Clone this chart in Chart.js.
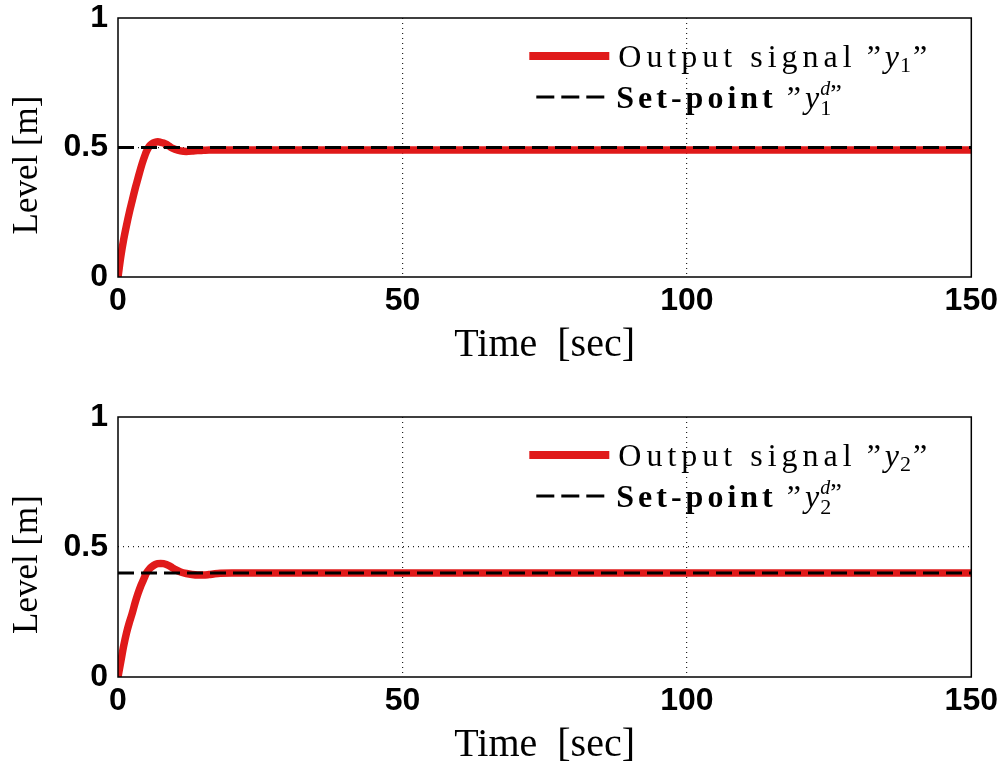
<!DOCTYPE html>
<html>
<head>
<meta charset="utf-8">
<title>Tank levels</title>
<script src="https://cdn.jsdelivr.net/npm/chart.js@4.4.1/dist/chart.umd.min.js"></script>
<style>
  html, body { margin: 0; padding: 0; background: #fff; }
  .panel { position: absolute; left: 0; width: 1006px; }
  #panelTop { top: 0; height: 385px; }
  #panelBottom { top: 385px; height: 386px; }
</style>
</head>
<body>
<div class="panel" id="panelTop"><canvas id="levelChart1"></canvas></div>
<div class="panel" id="panelBottom"><canvas id="levelChart2"></canvas></div>
<script>
// simulation time [sec]
const timeSec = [0, 0.5, 1, 1.5, 2, 2.5, 3, 3.5, 4, 4.5, 5, 5.5, 6, 6.5, 7, 7.5, 8, 8.5, 9, 9.5,
                 10, 11, 12, 13, 14, 15, 16, 17, 18, 20, 25, 30, 50, 75, 100, 125, 150];

// measured levels [m]
const outputY1 = [0, 0.08, 0.145, 0.2, 0.25, 0.295, 0.34, 0.38, 0.42, 0.455, 0.485, 0.505, 0.515, 0.52, 0.522, 0.52, 0.517, 0.512, 0.505, 0.498,
                  0.493, 0.487, 0.485, 0.486, 0.488, 0.489, 0.49, 0.49, 0.49, 0.49, 0.49, 0.49, 0.49, 0.49, 0.49, 0.49, 0.49];
const outputY2 = [0, 0.06, 0.12, 0.17, 0.21, 0.245, 0.285, 0.32, 0.35, 0.375, 0.4, 0.415, 0.425, 0.432, 0.436, 0.437, 0.436, 0.433, 0.428, 0.421,
                  0.414, 0.404, 0.398, 0.394, 0.392, 0.392, 0.394, 0.397, 0.399, 0.4, 0.4, 0.4, 0.4, 0.4, 0.4, 0.4, 0.4];

// set-points
const setpointTime = [0, 150];
const setpointY1 = [0.5, 0.5];
const setpointY2 = [0.4, 0.4];

const timeTicks = [0, 50, 100, 150];
const levelTicks = [0, 0.5, 1];

const RED = '#e01a1a';

function toPoints(xs, ys) {
    return xs.map((x, i) => ({ x: x, y: ys[i] }));
}

// draws a run of text and returns the x where it ends
function putText(ctx, text, x, y, font, spacing) {
    ctx.font = font;
    ctx.letterSpacing = spacing || '0px';
    ctx.fillText(text, x, y);
    const w = ctx.measureText(text).width;
    ctx.letterSpacing = '0px';
    return x + w;
}

// box round the axes
const framePlugin = {
    id: 'axesFrame',
    afterDatasetsDraw(chart) {
        const { ctx, chartArea: a } = chart;
        ctx.save();
        ctx.strokeStyle = '#000';
        ctx.lineWidth = 1.5;
        ctx.strokeRect(a.left, a.top, a.right - a.left, a.bottom - a.top);
        ctx.restore();
    }
};

// legend in the upper right corner, with the math labels
const legendPlugin = {
    id: 'insetLegend',
    afterDraw(chart, args, opts) {
        const { ctx, chartArea } = chart;
        const x0 = chartArea.right - 442;
        const row1 = chartArea.top + 38;
        const row2 = chartArea.top + 79;
        const serif = '"Liberation Serif", serif';
        ctx.save();

        ctx.strokeStyle = RED;
        ctx.lineWidth = 8;
        ctx.beginPath();
        ctx.moveTo(x0, row1);
        ctx.lineTo(x0 + 80, row1);
        ctx.stroke();

        ctx.strokeStyle = '#000';
        ctx.lineWidth = 3;
        ctx.setLineDash([18, 7]);
        ctx.beginPath();
        ctx.moveTo(x0 + 7, row2);
        ctx.lineTo(x0 + 82, row2);
        ctx.stroke();
        ctx.setLineDash([]);

        ctx.fillStyle = '#000';
        ctx.textAlign = 'left';
        ctx.textBaseline = 'alphabetic';

        let x = x0 + 89;
        const base1 = row1 + 11;
        x = putText(ctx, 'Output signal', x, base1, '32px ' + serif, '5px');
        x += 10;
        x = putText(ctx, '\u201D', x, base1, '32px ' + serif);
        x += 4;
        x = putText(ctx, 'y', x, base1, 'italic 32px ' + serif);
        x = putText(ctx, opts.index, x + 1, base1 + 5, '22px ' + serif);
        putText(ctx, '\u201D', x + 2, base1, '32px ' + serif);

        x = x0 + 87;
        const base2 = row2 + 11;
        x = putText(ctx, 'Set-point', x, base2, 'bold 32px ' + serif, '4px');
        x += 10;
        x = putText(ctx, '\u201D', x, base2, '32px ' + serif);
        x += 4;
        x = putText(ctx, 'y', x, base2, 'italic 32px ' + serif);
        const xd = putText(ctx, 'd', x + 1, base2 - 13, 'italic 20px ' + serif);
        putText(ctx, opts.index, x + 1, base2 + 7, '22px ' + serif);
        putText(ctx, '\u201D', xd, base2 - 6, '26px ' + serif);

        ctx.restore();
    }
};

function innerOnly(min, max) {
    return function (c) {
        const v = c.tick ? c.tick.value : null;
        return (v !== null && v > min && v < max) ? '#222' : 'rgba(0,0,0,0)';
    };
}

function makeLevelChart(canvasId, output, setpoint, index, padTop, xHeight, titlePad) {
    const canvas = document.getElementById(canvasId);
    return new Chart(canvas, {
        type: 'line',
        data: {
            datasets: [
                {
                    label: 'Set-point',
                    data: toPoints(setpointTime, setpoint),
                    borderColor: '#000',
                    borderWidth: 3,
                    borderDash: [16, 7],
                    pointRadius: 0,
                    fill: false
                },
                {
                    label: 'Output signal',
                    data: toPoints(timeSec, output),
                    borderColor: RED,
                    borderWidth: 7.5,
                    pointRadius: 0,
                    cubicInterpolationMode: 'monotone',
                    fill: false
                }
            ]
        },
        options: {
            responsive: true,
            maintainAspectRatio: false,
            animation: false,
            events: [],
            layout: { padding: { top: padTop, right: 31, left: 0, bottom: 0 } },
            plugins: {
                legend: { display: false },
                tooltip: { enabled: false },
                insetLegend: { index: index }
            },
            scales: {
                x: {
                    type: 'linear',
                    min: 0,
                    max: 150,
                    afterBuildTicks: s => { s.ticks = timeTicks.map(v => ({ value: v })); },
                    afterFit: s => { s.height = xHeight; },
                    grid: { color: innerOnly(0, 150), lineWidth: 1.2, drawTicks: false },
                    border: { display: false, dash: [1, 4] },
                    ticks: {
                        color: '#000',
                        padding: 8,
                        maxRotation: 0,
                        font: { family: '"Liberation Sans", Arial, sans-serif', size: 32, weight: 'bold', lineHeight: 1 }
                    },
                    title: {
                        display: true,
                        text: 'Time  [sec]',
                        color: '#000',
                        padding: { top: 0, bottom: titlePad },
                        font: { family: '"Liberation Serif", serif', size: 40 }
                    }
                },
                y: {
                    min: 0,
                    max: 1,
                    afterBuildTicks: s => { s.ticks = levelTicks.map(v => ({ value: v })); },
                    afterFit: s => {
                        s.width = 118;
                        s.paddingTop = 0;
                        s.paddingBottom = 0;
                    },
                    grid: { color: innerOnly(0, 1), lineWidth: 1.2, drawTicks: false },
                    border: { display: false, dash: [1, 4] },
                    ticks: {
                        color: '#000',
                        padding: 10,
                        callback: v => String(v),
                        font: { family: '"Liberation Sans", Arial, sans-serif', size: 32, weight: 'bold', lineHeight: 1 }
                    },
                    title: {
                        display: true,
                        text: 'Level [m]    ',
                        color: '#000',
                        padding: { top: 7, bottom: 0 },
                        font: { family: '"Liberation Serif", serif', size: 35 }
                    }
                }
            }
        },
        plugins: [framePlugin, legendPlugin]
    });
}

document.addEventListener('DOMContentLoaded', function () {
    makeLevelChart('levelChart1', outputY1, setpointY1, '1', 18, 108, 16);
    makeLevelChart('levelChart2', outputY2, setpointY2, '2', 32, 94, 2);
});
</script>
</body>
</html>
